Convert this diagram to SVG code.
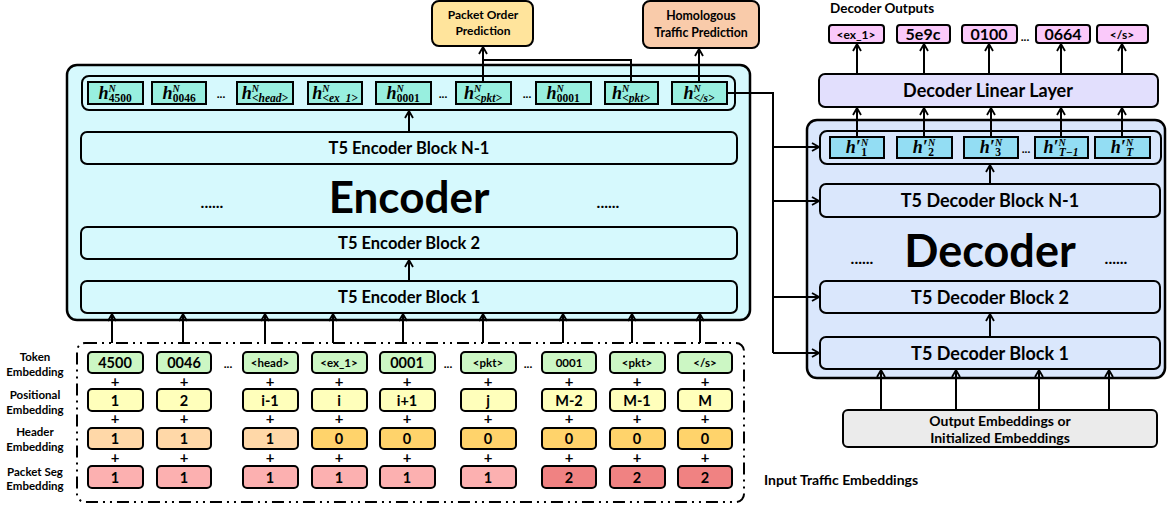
<svg xmlns="http://www.w3.org/2000/svg" width="1167" height="505" viewBox="0 0 1167 505">
<style>
text{font-family:Lato,"Liberation Sans",sans-serif;font-weight:bold;fill:#000}
.c{text-anchor:middle}
.bx{stroke:#000;stroke-width:2}
.ln{fill:none;stroke:#000;stroke-width:2}
.h{font-family:"Liberation Serif","DejaVu Serif",serif;font-style:italic;font-size:18px;text-anchor:middle}
.sup{font-size:10px}
.sub{font-size:11.5px}
.up{font-style:normal}
.tk{fill:#CCF7C4}.ps{fill:#FFFFBB}.hl{fill:#FFD8A8}.hd{fill:#FFD36B}.sl{fill:#FCB0B0}.sd{fill:#F08282}
.t13{font-size:14.5px}.t10{font-size:11.5px}.pl{font-size:15px}.dt{font-size:12px}
.lab{font-size:11.5px;text-anchor:middle}
.blk{font-size:16.5px}
.dblk{font-size:18px}
</style>
<defs>
<marker id="a" markerWidth="10" markerHeight="10" refX="9" refY="5" orient="auto" markerUnits="userSpaceOnUse"><path d="M2,1 L9,5 L2,9" fill="none" stroke="#000" stroke-width="1.8"/></marker>
</defs>

<g id="encoder">
<rect x="67" y="65" width="683" height="255" rx="10" fill="#D6F9FD" stroke="#000" stroke-width="2.5"/>
<rect x="82" y="76" width="653" height="34" rx="7" fill="#D6F9FD" class="bx"/>
<g fill="#98EFDF" class="bx">
<rect x="88" y="82" width="55" height="22"/><rect x="152" y="82" width="54" height="22"/><rect x="237" y="82" width="56" height="22"/><rect x="308" y="82" width="54" height="22"/><rect x="376" y="82" width="55" height="22"/><rect x="456" y="82" width="55" height="22"/><rect x="536" y="82" width="55" height="22"/><rect x="605" y="82" width="53" height="22"/><rect x="672" y="82" width="55" height="22"/>
</g>
<text class="h" x="115" y="99">h<tspan class="sup" dy="-7">N</tspan><tspan class="sub up" dx="-7" dy="10">4500</tspan></text>
<text class="h" x="179" y="99">h<tspan class="sup" dy="-7">N</tspan><tspan class="sub up" dx="-7" dy="10">0046</tspan></text>
<text class="h" x="265" y="99">h<tspan class="sup" dy="-7">N</tspan><tspan class="sub" dx="-7" dy="10">&lt;head&gt;</tspan></text>
<text class="h" x="335" y="99">h<tspan class="sup" dy="-7">N</tspan><tspan class="sub" dx="-7" dy="10">&lt;ex_1&gt;</tspan></text>
<text class="h" x="403" y="99">h<tspan class="sup" dy="-7">N</tspan><tspan class="sub up" dx="-7" dy="10">0001</tspan></text>
<text class="h" x="483" y="99">h<tspan class="sup" dy="-7">N</tspan><tspan class="sub" dx="-7" dy="10">&lt;pkt&gt;</tspan></text>
<text class="h" x="563" y="99">h<tspan class="sup" dy="-7">N</tspan><tspan class="sub up" dx="-7" dy="10">0001</tspan></text>
<text class="h" x="631" y="99">h<tspan class="sup" dy="-7">N</tspan><tspan class="sub" dx="-7" dy="10">&lt;pkt&gt;</tspan></text>
<text class="h" x="699" y="99">h<tspan class="sup" dy="-7">N</tspan><tspan class="sub" dx="-7" dy="10">&lt;/s&gt;</tspan></text>
<text class="c dt" x="221" y="98">...</text><text class="c dt" x="443" y="98">...</text><text class="c dt" x="527" y="98">...</text>
<rect x="81" y="132" width="656" height="32" rx="6" fill="#D6F9FD" class="bx"/>
<text class="c blk" x="409" y="154">T5 Encoder Block N-1</text>
<text class="c" x="409" y="213" font-size="44">Encoder</text>
<text class="c" x="212" y="208" font-size="16">......</text>
<text class="c" x="608" y="208" font-size="16">......</text>
<rect x="81" y="227" width="656" height="32" rx="6" fill="#D6F9FD" class="bx"/>
<text class="c blk" x="409" y="249">T5 Encoder Block 2</text>
<rect x="81" y="281" width="656" height="32" rx="6" fill="#D6F9FD" class="bx"/>
<text class="c blk" x="409" y="303">T5 Encoder Block 1</text>
</g>

<g id="packet-order">
<rect x="432" y="1" width="101" height="45" rx="7" fill="#FFE49C" class="bx"/>
<text class="c" x="483" y="19" font-size="12">Packet Order</text>
<text class="c" x="483" y="35" font-size="12">Prediction</text>
</g>
<g id="homologous">
<rect x="643" y="1" width="116" height="47" rx="7" fill="#F9CBAA" class="bx"/>
<text class="c" x="701" y="20" font-size="12.3">Homologous</text>
<text class="c" x="701" y="37" font-size="12.3">Traffic Prediction</text>
</g>

<g id="decoder">
<rect x="807" y="120" width="358" height="258" rx="10" fill="#DAE7FC" stroke="#000" stroke-width="2.5"/>
<rect x="820" y="131" width="341" height="33" rx="7" fill="#DAE7FC" class="bx"/>
<g fill="#93DDF3" class="bx">
<rect x="830" y="137" width="54" height="21"/><rect x="897" y="137" width="55" height="21"/><rect x="964" y="137" width="54" height="21"/><rect x="1035" y="137" width="53" height="21"/><rect x="1095" y="137" width="55" height="21"/>
</g>
<text class="h" x="857" y="153">h′<tspan class="sup" dy="-7">N</tspan><tspan class="sub up" dx="-7" dy="10">1</tspan></text>
<text class="h" x="924" y="153">h′<tspan class="sup" dy="-7">N</tspan><tspan class="sub up" dx="-7" dy="10">2</tspan></text>
<text class="h" x="991" y="153">h′<tspan class="sup" dy="-7">N</tspan><tspan class="sub up" dx="-7" dy="10">3</tspan></text>
<text class="h" x="1061" y="153">h′<tspan class="sup" dy="-7">N</tspan><tspan class="sub" dx="-7" dy="10">T−1</tspan></text>
<text class="h" x="1122" y="153">h′<tspan class="sup" dy="-7">N</tspan><tspan class="sub" dx="-7" dy="10">T</tspan></text>
<text class="c dt" x="1026" y="153">...</text>
<rect x="820" y="184" width="340" height="33" rx="6" fill="#DAE7FC" class="bx"/>
<text class="c dblk" x="990" y="207">T5 Decoder Block N-1</text>
<text class="c" x="990" y="267" font-size="45">Decoder</text>
<text class="c" x="862" y="264" font-size="16">......</text>
<text class="c" x="1116" y="264" font-size="16">......</text>
<rect x="820" y="281" width="340" height="32" rx="6" fill="#DAE7FC" class="bx"/>
<text class="c dblk" x="990" y="304">T5 Decoder Block 2</text>
<rect x="820" y="337" width="340" height="32" rx="6" fill="#DAE7FC" class="bx"/>
<text class="c dblk" x="990" y="360">T5 Decoder Block 1</text>
</g>

<g id="linear-layer">
<rect x="819" y="74" width="339" height="33" rx="6" fill="#E2DFFD" class="bx"/>
<text class="c" x="988" y="97" font-size="18">Decoder Linear Layer</text>
</g>

<g id="decoder-outputs">
<text x="830" y="13" font-size="13.5">Decoder Outputs</text>
<g fill="#FAC9FA" class="bx">
<rect x="829" y="25" width="55" height="18" rx="3"/><rect x="897" y="25" width="53" height="18" rx="3"/><rect x="962" y="25" width="55" height="18" rx="3"/><rect x="1036" y="25" width="54" height="18" rx="3"/><rect x="1097" y="25" width="51" height="18" rx="3"/>
</g>
<text class="c" x="856" y="38.5" font-size="12">&lt;ex_1&gt;</text>
<text class="c" x="923" y="40" font-size="16">5e9c</text>
<text class="c" x="989" y="40" font-size="16">0100</text>
<text class="c dt" x="1025" y="41">...</text>
<text class="c" x="1063" y="40" font-size="16">0664</text>
<text class="c" x="1122" y="38.5" font-size="12">&lt;/s&gt;</text>
</g>

<g id="output-embeddings">
<rect x="843" y="410" width="314" height="37" rx="5" fill="#EBEBEB" class="bx"/>
<text class="c" x="1000" y="426" font-size="14">Output Embeddings or</text>
<text class="c" x="1000" y="443" font-size="14">Initialized Embeddings</text>
</g>

<g id="input-embeddings">
<rect x="77" y="343" width="667" height="159" rx="8" fill="none" stroke="#000" stroke-width="2" stroke-dasharray="12,5,2,5,2,5"/>
<text class="lab" x="35" y="361">Token</text><text class="lab" x="35" y="376">Embedding</text>
<text class="lab" x="35" y="399">Positional</text><text class="lab" x="35" y="414">Embedding</text>
<text class="lab" x="35" y="436">Header</text><text class="lab" x="35" y="451">Embedding</text>
<text class="lab" x="35" y="476">Packet Seg</text><text class="lab" x="35" y="490">Embedding</text>
<g class="bx">
<rect class="tk" x="88" y="352" width="55" height="21" rx="4"/><rect class="tk" x="157" y="352" width="54" height="21" rx="4"/><rect class="tk" x="243" y="352" width="55" height="21" rx="4"/><rect class="tk" x="312" y="352" width="55" height="21" rx="4"/><rect class="tk" x="380" y="352" width="55" height="21" rx="4"/><rect class="tk" x="461" y="352" width="55" height="21" rx="4"/><rect class="tk" x="542" y="352" width="54" height="21" rx="4"/><rect class="tk" x="610" y="352" width="55" height="21" rx="4"/><rect class="tk" x="678" y="352" width="54" height="21" rx="4"/>
<rect class="ps" x="88" y="389" width="55" height="22" rx="4"/><rect class="ps" x="157" y="389" width="54" height="22" rx="4"/><rect class="ps" x="243" y="389" width="55" height="22" rx="4"/><rect class="ps" x="312" y="389" width="55" height="22" rx="4"/><rect class="ps" x="380" y="389" width="55" height="22" rx="4"/><rect class="ps" x="461" y="389" width="55" height="22" rx="4"/><rect class="ps" x="542" y="389" width="54" height="22" rx="4"/><rect class="ps" x="610" y="389" width="55" height="22" rx="4"/><rect class="ps" x="678" y="389" width="54" height="22" rx="4"/>
<rect class="hl" x="88" y="428" width="55" height="21" rx="4"/><rect class="hl" x="157" y="428" width="54" height="21" rx="4"/><rect class="hl" x="243" y="428" width="55" height="21" rx="4"/><rect class="hd" x="312" y="428" width="55" height="21" rx="4"/><rect class="hd" x="380" y="428" width="55" height="21" rx="4"/><rect class="hd" x="461" y="428" width="55" height="21" rx="4"/><rect class="hd" x="542" y="428" width="54" height="21" rx="4"/><rect class="hd" x="610" y="428" width="55" height="21" rx="4"/><rect class="hd" x="678" y="428" width="54" height="21" rx="4"/>
<rect class="sl" x="88" y="466" width="55" height="22" rx="4"/><rect class="sl" x="157" y="466" width="54" height="22" rx="4"/><rect class="sl" x="243" y="466" width="55" height="22" rx="4"/><rect class="sl" x="312" y="466" width="55" height="22" rx="4"/><rect class="sl" x="380" y="466" width="55" height="22" rx="4"/><rect class="sl" x="461" y="466" width="55" height="22" rx="4"/><rect class="sd" x="542" y="466" width="54" height="22" rx="4"/><rect class="sd" x="610" y="466" width="55" height="22" rx="4"/><rect class="sd" x="678" y="466" width="54" height="22" rx="4"/>
</g>
<g class="c">
<text class="t13" x="115" y="368">4500</text><text class="t13" x="184" y="368">0046</text><text class="t10" x="270" y="367">&lt;head&gt;</text><text class="t10" x="339" y="367">&lt;ex_1&gt;</text><text class="t13" x="407" y="368">0001</text><text class="t10" x="488" y="367">&lt;pkt&gt;</text><text class="t10" x="569" y="367">0001</text><text class="t10" x="637" y="367">&lt;pkt&gt;</text><text class="t10" x="705" y="367">&lt;/s&gt;</text>
<text class="t13" x="115" y="405.5">1</text><text class="t13" x="184" y="405.5">2</text><text class="t13" x="270" y="405.5">i-1</text><text class="t13" x="339" y="405.5">i</text><text class="t13" x="407" y="405.5">i+1</text><text class="t13" x="488" y="405.5">j</text><text class="t13" x="569" y="405.5">M-2</text><text class="t13" x="637" y="405.5">M-1</text><text class="t13" x="705" y="405.5">M</text>
<text class="t13" x="115" y="444">1</text><text class="t13" x="184" y="444">1</text><text class="t13" x="270" y="444">1</text><text class="t13" x="339" y="444">0</text><text class="t13" x="407" y="444">0</text><text class="t13" x="488" y="444">0</text><text class="t13" x="569" y="444">0</text><text class="t13" x="637" y="444">0</text><text class="t13" x="705" y="444">0</text>
<text class="t13" x="115" y="482.5">1</text><text class="t13" x="184" y="482.5">1</text><text class="t13" x="270" y="482.5">1</text><text class="t13" x="339" y="482.5">1</text><text class="t13" x="407" y="482.5">1</text><text class="t13" x="488" y="482.5">1</text><text class="t13" x="569" y="482.5">2</text><text class="t13" x="637" y="482.5">2</text><text class="t13" x="705" y="482.5">2</text>
<text class="dt" x="228" y="368">...</text><text class="dt" x="448" y="368">...</text><text class="dt" x="528" y="368">...</text>
</g>
<g class="c pl">
<text x="115" y="387">+</text><text x="184" y="387">+</text><text x="270" y="387">+</text><text x="339" y="387">+</text><text x="407" y="387">+</text><text x="488" y="387">+</text><text x="569" y="387">+</text><text x="637" y="387">+</text><text x="705" y="387">+</text>
<text x="115" y="424">+</text><text x="184" y="424">+</text><text x="270" y="424">+</text><text x="339" y="424">+</text><text x="407" y="424">+</text><text x="488" y="424">+</text><text x="569" y="424">+</text><text x="637" y="424">+</text><text x="705" y="424">+</text>
<text x="115" y="463">+</text><text x="184" y="463">+</text><text x="270" y="463">+</text><text x="339" y="463">+</text><text x="407" y="463">+</text><text x="488" y="463">+</text><text x="569" y="463">+</text><text x="637" y="463">+</text><text x="705" y="463">+</text>
</g>
<text x="764" y="485" font-size="14">Input Traffic Embeddings</text>
</g>

<g id="connectors" class="ln">
<path d="M112,343 V314" marker-end="url(#a)"/><path d="M183,343 V314" marker-end="url(#a)"/><path d="M265,343 V314" marker-end="url(#a)"/><path d="M333,343 V314" marker-end="url(#a)"/><path d="M403,343 V314" marker-end="url(#a)"/><path d="M483,343 V314" marker-end="url(#a)"/><path d="M563,343 V314" marker-end="url(#a)"/><path d="M632,343 V314" marker-end="url(#a)"/><path d="M700,343 V314" marker-end="url(#a)"/>
<path d="M409,281 V260" marker-end="url(#a)"/>
<path d="M409,132 V111" marker-end="url(#a)"/>
<path d="M483,82 V47" marker-end="url(#a)"/>
<path d="M631,82 V60 H483"/>
<path d="M699,82 V49" marker-end="url(#a)"/>
<path d="M727,93 H773 V353"/>
<path d="M773,147 H819" marker-end="url(#a)"/><path d="M773,201 H819" marker-end="url(#a)"/><path d="M773,297 H819" marker-end="url(#a)"/><path d="M773,353 H819" marker-end="url(#a)"/>
<path d="M990,184 V165" marker-end="url(#a)"/>
<path d="M990,337 V314" marker-end="url(#a)"/>
<path d="M881,410 V370" marker-end="url(#a)"/><path d="M956,410 V370" marker-end="url(#a)"/><path d="M1039,410 V370" marker-end="url(#a)"/><path d="M1109,410 V370" marker-end="url(#a)"/>
<path d="M857,137 V108" marker-end="url(#a)"/><path d="M924,137 V108" marker-end="url(#a)"/><path d="M991,137 V108" marker-end="url(#a)"/><path d="M1061,137 V108" marker-end="url(#a)"/><path d="M1122,137 V108" marker-end="url(#a)"/>
<path d="M857,74 V44" marker-end="url(#a)"/><path d="M924,74 V44" marker-end="url(#a)"/><path d="M989,74 V44" marker-end="url(#a)"/><path d="M1061,74 V44" marker-end="url(#a)"/><path d="M1122,74 V44" marker-end="url(#a)"/>
</g>
</svg>
